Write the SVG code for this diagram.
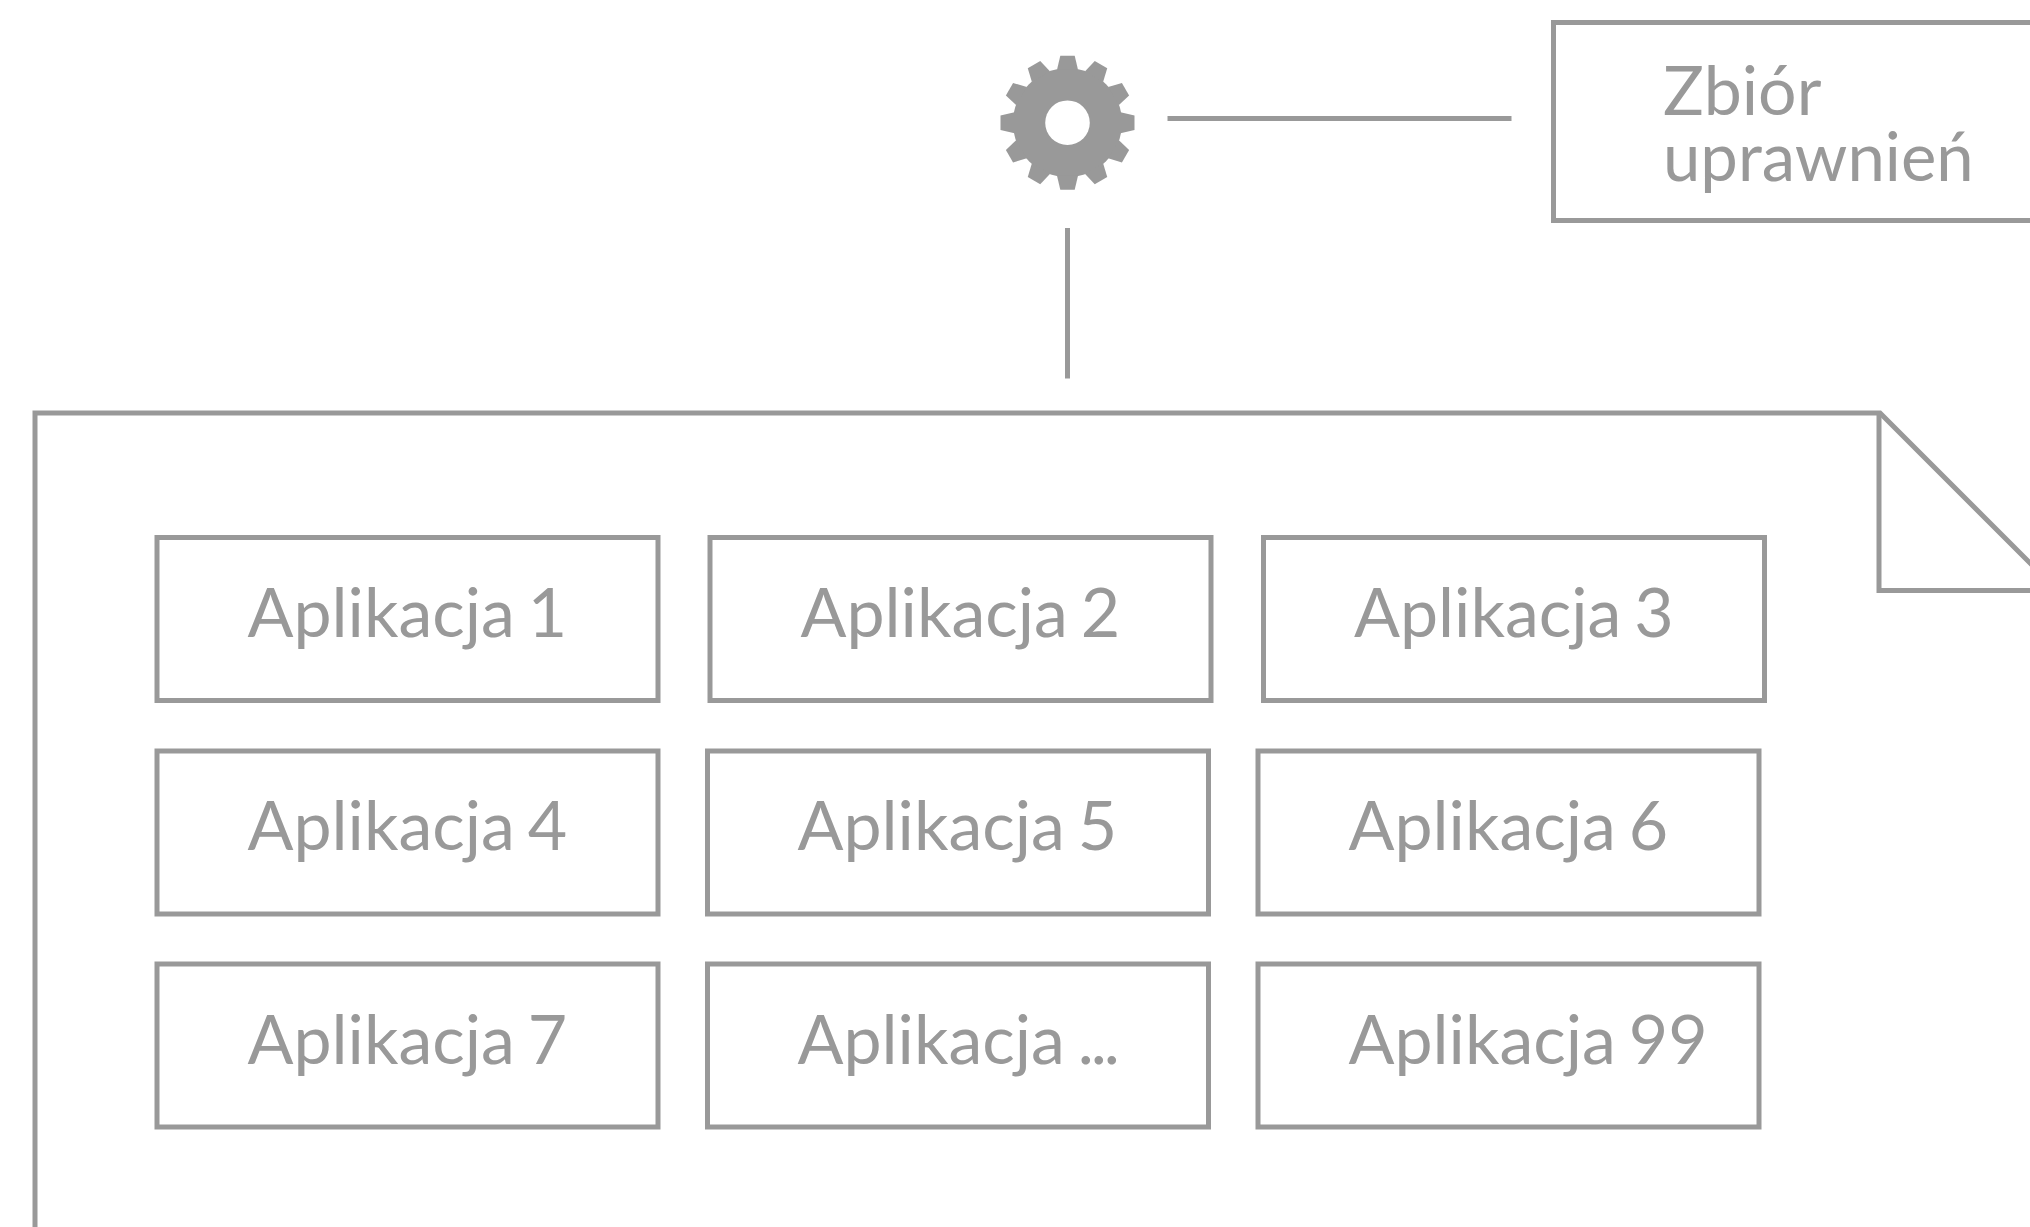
<svg xmlns="http://www.w3.org/2000/svg" width="2030" height="1227" viewBox="0 0 2030 1227">
<style>
.s{fill:none;stroke:#999;stroke-width:5}
.t{font-family:Lato,"Liberation Sans",sans-serif;font-weight:400;font-size:68px;fill:#999;word-spacing:-4.500px}
.u{font-size:67px}
.d{letter-spacing:-3px}
.g{fill:#999}
</style>
<defs><polygon id="tooth" points="-7.200,-67 7.200,-67 10.500,-53 -10.500,-53"/></defs>
<rect width="2030" height="1227" fill="#fff"/>
<g id="connectors">
<path class="s" d="M1167.500 118.500H1511.500"/>
<path class="s" d="M1067.500 228V378.500"/>
</g>
<g id="gear" transform="translate(1067.500 122.700)">
<circle class="g" r="54.500"/>
<use href="#tooth" class="g"/>
<use href="#tooth" class="g" transform="rotate(30)"/>
<use href="#tooth" class="g" transform="rotate(60)"/>
<use href="#tooth" class="g" transform="rotate(90)"/>
<use href="#tooth" class="g" transform="rotate(120)"/>
<use href="#tooth" class="g" transform="rotate(150)"/>
<use href="#tooth" class="g" transform="rotate(180)"/>
<use href="#tooth" class="g" transform="rotate(210)"/>
<use href="#tooth" class="g" transform="rotate(240)"/>
<use href="#tooth" class="g" transform="rotate(270)"/>
<use href="#tooth" class="g" transform="rotate(300)"/>
<use href="#tooth" class="g" transform="rotate(330)"/>
<circle r="22.300" fill="#fff"/>
</g>
<g id="zbior">
<path class="s" d="M2035 22.500H1553.500V220.500H2035"/>
<text class="t"><tspan x="1663" y="115">Zbiór</tspan><tspan class="u" x="1663" y="181">uprawnień</tspan></text>
</g>
<g id="document">
<path class="s" d="M35 1232V413H1880L2035 568"/>
<path class="s" d="M1879 413V590.500H2035"/>
</g>
<g id="app1"><rect class="s" x="157" y="537.500" width="501" height="163"/><text class="t" x="247.500" y="637">Aplikacja 1</text></g>
<g id="app2"><rect class="s" x="710" y="537.500" width="501" height="163"/><text class="t" x="800.500" y="637">Aplikacja 2</text></g>
<g id="app3"><rect class="s" x="1263.500" y="537.500" width="501" height="163"/><text class="t" x="1354" y="637">Aplikacja 3</text></g>
<g id="app4"><rect class="s" x="157" y="751" width="501" height="163"/><text class="t" x="247.500" y="850">Aplikacja 4</text></g>
<g id="app5"><rect class="s" x="707.500" y="751" width="501" height="163"/><text class="t" x="797.500" y="850">Aplikacja 5</text></g>
<g id="app6"><rect class="s" x="1258" y="751" width="501" height="163"/><text class="t" x="1348.500" y="850">Aplikacja 6</text></g>
<g id="app7"><rect class="s" x="157" y="964" width="501" height="163"/><text class="t" x="247.500" y="1064">Aplikacja 7</text></g>
<g id="app8"><rect class="s" x="707.500" y="964" width="501" height="163"/><text class="t" x="797.500" y="1064">Aplikacja <tspan class="d">...</tspan></text></g>
<g id="app9"><rect class="s" x="1258" y="964" width="501" height="163"/><text class="t" x="1348.500" y="1064">Aplikacja 99</text></g>
</svg>
